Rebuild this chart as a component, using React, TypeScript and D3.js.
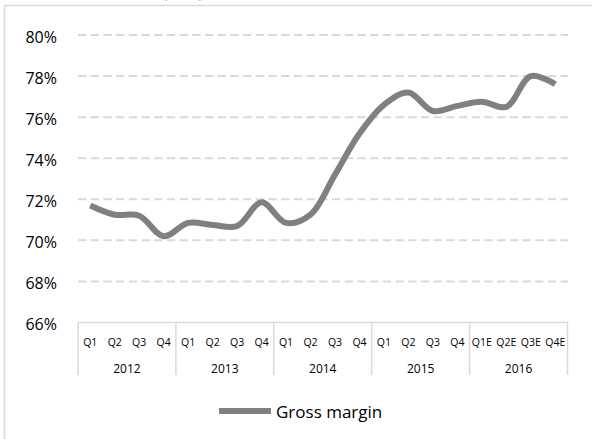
import React from 'react';
import * as d3 from 'd3';

/* quarterly gross margin, in % */
const quarters = ['Q1', 'Q2', 'Q3', 'Q4', 'Q1', 'Q2', 'Q3', 'Q4', 'Q1', 'Q2', 'Q3', 'Q4', 'Q1', 'Q2', 'Q3', 'Q4', 'Q1E', 'Q2E', 'Q3E', 'Q4E'];
const years = ['2012', '2013', '2014', '2015', '2016'];
const grossMargin = [71.7, 71.25, 71.2, 70.2, 70.85, 70.75, 70.7, 71.85, 70.85, 71.25, 73.2, 75.2, 76.6, 77.2, 76.3, 76.55, 76.75, 76.5, 78.0, 77.6];
const yTicks = [66, 68, 70, 72, 74, 76, 78, 80];

const W = 592;
const H = 439;
const font = "'Open Sans', 'Noto Sans', sans-serif";

const App = () => {
    const x = d3.scaleBand<number>().domain(quarters.map((_, i) => i)).range([78, 567.5]);
    const y = d3.scaleLinear().domain([66, 80]).range([322.5, 35]);
    const cx = (i: number) => (x(i) as number) + x.bandwidth() / 2;

    const line = d3.line<number>()
        .x((_, i) => cx(i))
        .y(v => y(v))
        .curve(d3.curveCatmullRom.alpha(0.5));

    const perYear = 4;
    const yearW = x.bandwidth() * perYear;

    return (
        <svg width={W} height={H} style={{ position: 'absolute', left: 0, top: 0, background: '#fff' }}>
            {/* title, mostly cut off above */}
            <text x={183} y={-2} textAnchor='middle' fontFamily={font} fontSize={16} fill='#595959'>(in %)</text>
            {/* chart frame */}
            <rect x={4.5} y={5.5} width={W + 10} height={H + 10} fill='none' stroke='#d9d9d9' strokeWidth={1.5} />

            {/* gridlines */}
            {yTicks.filter(t => t !== 66).map(t => (
                <line key={t} x1={78} x2={568} y1={y(t)} y2={y(t)} stroke='#d9d9d9' strokeWidth={2} strokeDasharray='8.3,4.4' />
            ))}
            {/* y labels */}
            {yTicks.map(t => (
                <text key={'l' + t} x={57} y={y(t) + 1.5} textAnchor='end' dominantBaseline='central' fontFamily={font} fontSize={16} fill='#000'>{t}%</text>
            ))}

            {/* category axis */}
            <line x1={78} x2={568} y1={y(66)} y2={y(66)} stroke='#d9d9d9' strokeWidth={1.5} />
            {d3.range(years.length + 1).map(k => (
                <line key={'s' + k} x1={78 + k * yearW} x2={78 + k * yearW} y1={y(66)} y2={375} stroke='#d9d9d9' strokeWidth={1.5} />
            ))}
            {quarters.map((q, i) => (
                <text key={'q' + i} x={cx(i)} y={342} textAnchor='middle' dominantBaseline='central' fontFamily={font} fontSize={10.5} fill='#000'>{q}</text>
            ))}
            {years.map((yr, k) => (
                <text key={yr} x={78 + (k + 0.5) * yearW} y={368} textAnchor='middle' dominantBaseline='central' fontFamily={font} fontSize={12} fill='#000'>{yr}</text>
            ))}

            {/* series */}
            <path d={line(grossMargin) ?? ''} fill='none' stroke='#808080' strokeWidth={6} strokeLinecap='butt' strokeLinejoin='round' />

            {/* legend */}
            <line x1={219} x2={271} y1={411} y2={411} stroke='#808080' strokeWidth={6} />
            <text x={276} y={411} dominantBaseline='central' fontFamily={font} fontSize={17} fill='#000'>Gross margin</text>
        </svg>
    );
};

export default App;
